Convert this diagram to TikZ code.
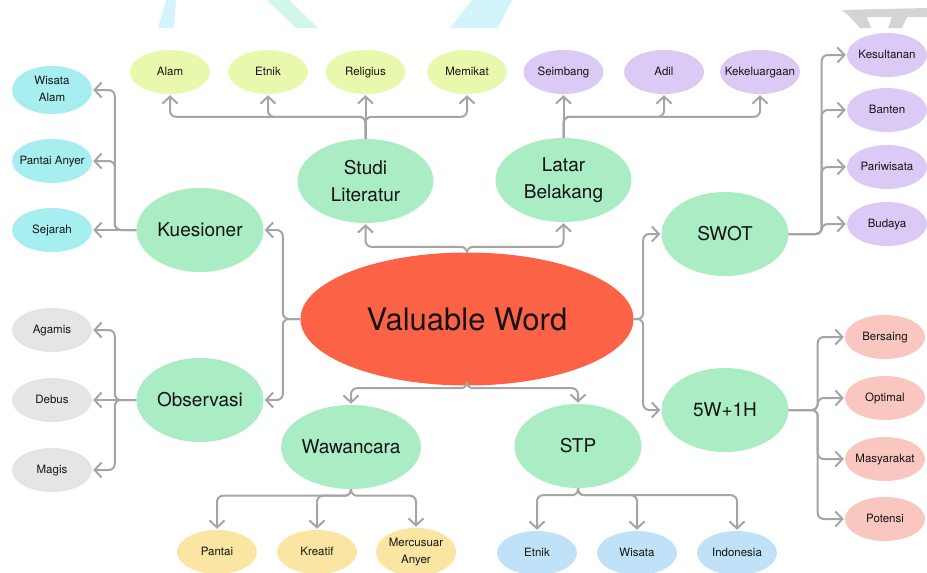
\documentclass[tikz,border=0pt]{standalone}
\usepackage{fontspec}
\setmainfont{TeX Gyre Heros}
\usetikzlibrary{arrows.meta,shapes.geometric}

\definecolor{vwred}{RGB}{252,99,70}
\definecolor{hubgreen}{RGB}{170,236,196}
\definecolor{lflime}{RGB}{232,248,172}
\definecolor{lfpurple}{RGB}{220,202,246}
\definecolor{lfcyan}{RGB}{166,238,240}
\definecolor{lfgray}{RGB}{229,229,229}
\definecolor{lfpink}{RGB}{249,198,192}
\definecolor{lfyellow}{RGB}{251,229,162}
\definecolor{lfblue}{RGB}{192,226,248}
\definecolor{linegray}{RGB}{165,165,165}
\definecolor{inkdark}{RGB}{20,20,20}
\definecolor{wmcyan}{RGB}{212,244,251}
\definecolor{wmmint}{RGB}{210,246,232}
\definecolor{wmgray}{RGB}{212,212,212}

\newcommand{\lf}[1]{\hbox to 0pt{\hss\begin{tabular}{@{}c@{}}#1\end{tabular}\hss}}

\begin{document}
\begin{tikzpicture}[x=1pt,y=-1pt,
    hub/.style={ellipse,fill=hubgreen,text=inkdark,minimum width=127pt,minimum height=84pt,inner sep=0pt,align=center,font=\fontsize{19}{27}\selectfont},
    leaf/.style={ellipse,fill=#1,text=inkdark,minimum width=80pt,minimum height=44pt,inner sep=0pt,font=\fontsize{11.5}{17}\selectfont},
    conn/.style={draw=linegray,line width=2pt,rounded corners=6pt,shorten >=1pt,-{Straight Barb[length=7pt,width=15pt]}}]
    \useasboundingbox (0,0) rectangle (927,573);
    \fill[wmcyan] (158,28) -- (166,0) -- (176,0) -- (174,28) -- cycle;
    \fill[wmmint] (267,0) -- (289,0) -- (318,28) -- (296,28) -- cycle;
    \fill[wmcyan] (450,28) -- (472,0) -- (512,0) -- (498,28) -- cycle;
    \fill[wmgray] (842,10) -- (927,8) -- (927,17) -- (850,17) -- cycle;
    \fill[wmgray] (850,17) -- (867,17) -- (871,28) -- (860,28) -- cycle;
    \fill[wmgray] (892,17) -- (907,17) -- (902,28) -- (888,28) -- cycle;
    \node[ellipse,fill=vwred,text=inkdark,minimum width=333pt,minimum height=133pt,font=\fontsize{31}{36}\selectfont] at (467,319) (vw) {Valuable Word};
    \node[hub,minimum width=136pt] at (365.5,181) (sl) {Studi\\Literatur};
    \node[hub,minimum width=136pt] at (563.5,180) (lb) {Latar\\Belakang};
    \node[hub] at (200,230) (ku) {Kuesioner};
    \node[hub] at (200,400) (ob) {Observasi};
    \node[hub] at (725,234) (sw) {SWOT};
    \node[hub] at (725,410) (fw) {5W+1H};
    \node[hub,minimum width=135pt] at (351,447) (wa) {Wawancara};
    \node[hub] at (578,446) (stp) {STP};
    \node[leaf=lflime] at (170,72) (alam) {\lf{Alam}};
    \node[leaf=lflime] at (268,72) (etnik) {\lf{Etnik}};
    \node[leaf=lflime] at (365.5,72) (rel) {\lf{Religius}};
    \node[leaf=lflime] at (467,72) (mem) {\lf{Memikat}};
    \node[leaf=lfpurple] at (563.5,72) (seim) {\lf{Seimbang}};
    \node[leaf=lfpurple] at (664,72) (adil) {\lf{Adil}};
    \node[leaf=lfpurple] at (760,72) (kek) {\lf{Kekeluargaan}};
    \node[leaf=lfpurple] at (887,55) (kes) {\lf{Kesultanan}};
    \node[leaf=lfpurple] at (887,110) (ban) {\lf{Banten}};
    \node[leaf=lfpurple] at (887,167) (pari) {\lf{Pariwisata}};
    \node[leaf=lfpurple] at (887,224) (bud) {\lf{Budaya}};
    \node[leaf=lfcyan] at (52,90) (wis) {\lf{Wisata\\Alam}};
    \node[leaf=lfcyan] at (52,161) (pan) {\lf{Pantai Anyer}};
    \node[leaf=lfcyan] at (52,230) (sej) {\lf{Sejarah}};
    \node[leaf=lfgray] at (52,330) (aga) {\lf{Agamis}};
    \node[leaf=lfgray] at (52,400) (deb) {\lf{Debus}};
    \node[leaf=lfgray] at (52,470) (mag) {\lf{Magis}};
    \node[leaf=lfpink] at (885,337) (ber) {\lf{Bersaing}};
    \node[leaf=lfpink] at (885,398) (opt) {\lf{Optimal}};
    \node[leaf=lfpink] at (885,459) (mas) {\lf{Masyarakat}};
    \node[leaf=lfpink] at (885,519) (pot) {\lf{Potensi}};
    \node[leaf=lfyellow] at (217,552) (pnt) {\lf{Pantai}};
    \node[leaf=lfyellow] at (317,552) (kre) {\lf{Kreatif}};
    \node[leaf=lfyellow] at (416,552) (mer) {\lf{Mercusuar\\Anyer}};
    \node[leaf=lfblue] at (537,553) (etn) {\lf{Etnik}};
    \node[leaf=lfblue] at (637,553) (wst) {\lf{Wisata}};
    \node[leaf=lfblue] at (737,553) (ind) {\lf{Indonesia}};
    \draw[conn] (vw.north) -- ++(0,-5.5) -| (sl.south);
    \draw[conn] (vw.north) -- ++(0,-5.5) -| (lb.south);
    \draw[conn] (vw.west) -- ++(-17.5,0) |- (ku.east);
    \draw[conn] (vw.west) -- ++(-17.5,0) |- (ob.east);
    \draw[conn] (vw.east) -- ++(9.5,0) |- (sw.west);
    \draw[conn] (vw.east) -- ++(9.5,0) |- (fw.west);
    \draw[conn] (vw.south) -- ++(0,2.5) -| (wa.north);
    \draw[conn] (vw.south) -- ++(0,2.5) -| (stp.north);
    \draw[conn] (sl.north) -- ++(0,-22) -| (alam.south);
    \draw[conn] (sl.north) -- ++(0,-22) -| (etnik.south);
    \draw[conn] (sl.north) -- (rel.south);
    \draw[conn] (sl.north) -- ++(0,-22) -| (mem.south);
    \draw[conn] (lb.north) -- (seim.south);
    \draw[conn] (lb.north) -- ++(0,-21) -| (adil.south);
    \draw[conn] (lb.north) -- ++(0,-21) -| (kek.south);
    \draw[conn] (ku.west) -- ++(-21.5,0) |- (wis.east);
    \draw[conn] (ku.west) -- ++(-21.5,0) |- (pan.east);
    \draw[conn] (ku.west) -- (sej.east);
    \draw[conn] (ob.west) -- ++(-21.5,0) |- (aga.east);
    \draw[conn] (ob.west) -- (deb.east);
    \draw[conn] (ob.west) -- ++(-21.5,0) |- (mag.east);
    \draw[conn] (sw.east) -- ++(33,0) |- (kes.west);
    \draw[conn] (sw.east) -- ++(33,0) |- (ban.west);
    \draw[conn] (sw.east) -- ++(33,0) |- (pari.west);
    \draw[conn] (sw.east) -- ++(33,0) |- (bud.west);
    \draw[conn] (fw.east) -- ++(29,0) |- (ber.west);
    \draw[conn] (fw.east) -- ++(29,0) |- (opt.west);
    \draw[conn] (fw.east) -- ++(29,0) |- (mas.west);
    \draw[conn] (fw.east) -- ++(29,0) |- (pot.west);
    \draw[conn] (wa.south) -- ++(0,6.5) -| (pnt.north);
    \draw[conn] (wa.south) -- ++(0,6.5) -| (kre.north);
    \draw[conn] (wa.south) -- ++(0,6.5) -| (mer.north);
    \draw[conn] (stp.south) -- ++(0,7) -| (etn.north);
    \draw[conn] (stp.south) -- ++(0,7) -| (wst.north);
    \draw[conn] (stp.south) -- ++(0,7) -| (ind.north);
\end{tikzpicture}
\end{document}
